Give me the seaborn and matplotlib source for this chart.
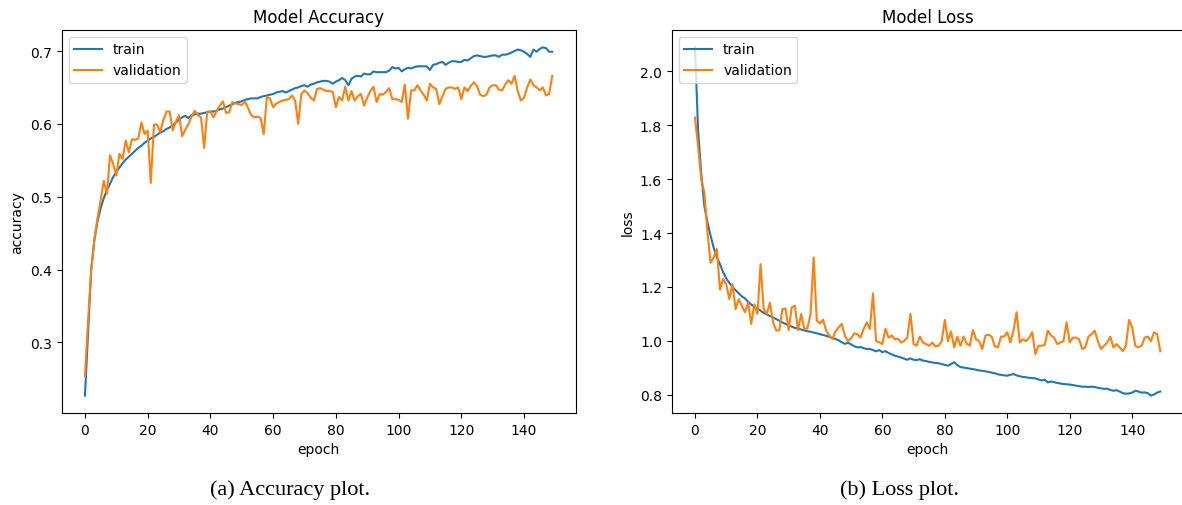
import numpy as np
import pandas as pd
import seaborn as sns
import matplotlib.pyplot as plt

epochs = np.arange(150)

train_acc = [
    0.227, 0.315, 0.400, 0.440, 0.466, 0.484, 0.498, 0.509, 0.518, 0.527,
    0.534, 0.540, 0.546, 0.551, 0.555, 0.559, 0.563, 0.567, 0.570, 0.574,
    0.577, 0.580, 0.582, 0.585, 0.588, 0.590, 0.593, 0.595, 0.598, 0.602,
    0.606, 0.609, 0.611, 0.608, 0.612, 0.613, 0.614, 0.614, 0.615, 0.616,
    0.617, 0.617, 0.618, 0.620, 0.621, 0.623, 0.625, 0.627, 0.629, 0.630,
    0.631, 0.633, 0.634, 0.635, 0.635, 0.635, 0.637, 0.638, 0.639, 0.640,
    0.641, 0.643, 0.644, 0.645, 0.643, 0.645, 0.647, 0.649, 0.650, 0.652,
    0.653, 0.651, 0.654, 0.655, 0.657, 0.658, 0.659, 0.659, 0.658, 0.655,
    0.658, 0.660, 0.663, 0.660, 0.653, 0.662, 0.665, 0.666, 0.665, 0.669,
    0.668, 0.668, 0.672, 0.671, 0.671, 0.671, 0.671, 0.673, 0.678, 0.676,
    0.677, 0.672, 0.675, 0.677, 0.676, 0.678, 0.679, 0.679, 0.679, 0.679,
    0.674, 0.681, 0.682, 0.684, 0.685, 0.681, 0.684, 0.686, 0.686, 0.685,
    0.685, 0.688, 0.687, 0.690, 0.693, 0.694, 0.693, 0.692, 0.692, 0.693,
    0.694, 0.694, 0.692, 0.695, 0.695, 0.696, 0.698, 0.700, 0.702, 0.701,
    0.699, 0.696, 0.692, 0.702, 0.699, 0.703, 0.705, 0.704, 0.699, 0.699,
]

val_acc = [
    0.254, 0.330, 0.400, 0.442, 0.470, 0.495, 0.522, 0.504, 0.557, 0.545,
    0.529, 0.559, 0.552, 0.577, 0.561, 0.579, 0.578, 0.580, 0.602, 0.586,
    0.591, 0.519, 0.599, 0.599, 0.589, 0.605, 0.617, 0.617, 0.591, 0.603,
    0.612, 0.583, 0.592, 0.600, 0.610, 0.618, 0.612, 0.609, 0.567, 0.617,
    0.617, 0.609, 0.618, 0.625, 0.631, 0.615, 0.616, 0.630, 0.628, 0.627,
    0.626, 0.631, 0.622, 0.612, 0.609, 0.610, 0.608, 0.586, 0.637, 0.635,
    0.623, 0.628, 0.630, 0.632, 0.633, 0.634, 0.639, 0.632, 0.600, 0.641,
    0.646, 0.642, 0.636, 0.632, 0.648, 0.649, 0.647, 0.645, 0.645, 0.644,
    0.623, 0.637, 0.632, 0.651, 0.632, 0.645, 0.632, 0.638, 0.641, 0.625,
    0.636, 0.645, 0.651, 0.630, 0.641, 0.640, 0.644, 0.649, 0.634, 0.634,
    0.633, 0.630, 0.654, 0.607, 0.646, 0.646, 0.653, 0.646, 0.640, 0.632,
    0.655, 0.650, 0.648, 0.627, 0.638, 0.648, 0.650, 0.650, 0.648, 0.650,
    0.634, 0.650, 0.645, 0.652, 0.657, 0.652, 0.640, 0.638, 0.640, 0.650,
    0.653, 0.653, 0.647, 0.646, 0.654, 0.660, 0.655, 0.666, 0.645, 0.632,
    0.636, 0.650, 0.661, 0.653, 0.650, 0.646, 0.650, 0.639, 0.641, 0.666,
]

train_loss = [
    2.089, 1.780, 1.620, 1.500, 1.440, 1.390, 1.345, 1.310, 1.285, 1.255,
    1.232, 1.215, 1.200, 1.188, 1.177, 1.165, 1.158, 1.145, 1.135, 1.127,
    1.120, 1.112, 1.104, 1.098, 1.092, 1.087, 1.081, 1.075, 1.068, 1.063,
    1.058, 1.053, 1.048, 1.046, 1.042, 1.039, 1.036, 1.034, 1.031, 1.028,
    1.025, 1.022, 1.019, 1.015, 1.011, 1.007, 1.002, 0.995, 0.989, 0.993,
    0.987, 0.980, 0.976, 0.977, 0.973, 0.970, 0.970, 0.966, 0.961, 0.966,
    0.958, 0.962, 0.955, 0.950, 0.945, 0.942, 0.938, 0.934, 0.930, 0.935,
    0.930, 0.929, 0.932, 0.927, 0.925, 0.922, 0.920, 0.918, 0.917, 0.914,
    0.911, 0.908, 0.914, 0.921, 0.910, 0.903, 0.901, 0.899, 0.897, 0.895,
    0.893, 0.890, 0.889, 0.887, 0.885, 0.882, 0.880, 0.876, 0.874, 0.872,
    0.871, 0.874, 0.877, 0.872, 0.869, 0.866, 0.865, 0.863, 0.862, 0.861,
    0.857, 0.853, 0.856, 0.846, 0.849, 0.847, 0.844, 0.842, 0.840, 0.839,
    0.838, 0.836, 0.834, 0.832, 0.830, 0.830, 0.829, 0.830, 0.829, 0.826,
    0.824, 0.822, 0.823, 0.818, 0.815, 0.817, 0.812, 0.806, 0.804, 0.805,
    0.808, 0.815, 0.812, 0.808, 0.809, 0.806, 0.797, 0.801, 0.808, 0.812,
]

val_loss = [
    1.829, 1.720, 1.600, 1.550, 1.400, 1.290, 1.310, 1.341, 1.190, 1.230,
    1.210, 1.155, 1.211, 1.118, 1.155, 1.130, 1.106, 1.142, 1.063, 1.136,
    1.100, 1.285, 1.118, 1.100, 1.142, 1.070, 1.038, 1.040, 1.118, 1.120,
    1.040, 1.125, 1.130, 1.040, 1.100, 1.044, 1.047, 1.100, 1.310, 1.075,
    1.065, 1.079, 1.038, 1.020, 1.007, 1.035, 1.050, 1.063, 1.019, 0.999,
    1.010, 1.028, 1.025, 1.012, 1.044, 1.069, 1.044, 1.176, 0.999, 0.995,
    0.988, 1.045, 1.012, 1.020, 1.006, 1.008, 0.994, 1.000, 1.012, 1.100,
    0.988, 0.982, 1.016, 0.994, 0.988, 0.982, 0.994, 0.980, 0.982, 0.999,
    1.078, 0.999, 1.035, 0.976, 1.016, 0.982, 1.016, 0.990, 0.982, 1.040,
    1.006, 0.999, 0.970, 1.020, 1.023, 1.016, 0.980, 0.976, 1.016, 1.016,
    1.032, 0.994, 1.038, 1.106, 0.994, 1.006, 0.999, 1.012, 1.032, 0.951,
    0.982, 0.982, 0.985, 1.038, 1.020, 1.012, 0.988, 0.994, 0.999, 1.069,
    0.994, 1.012, 1.012, 1.006, 0.970, 0.976, 1.016, 1.025, 1.038, 0.999,
    0.970, 0.982, 0.994, 1.016, 0.976, 0.988, 0.976, 0.962, 0.982, 1.078,
    1.050, 0.982, 0.976, 0.982, 1.012, 1.016, 0.999, 1.032, 1.025, 0.962,
]

series_names = ["train", "validation"]
colors = ["#1f77b4", "#ff7f0e"]


def long_frame(train, val):
    return pd.DataFrame({
        "epoch": np.concatenate([epochs, epochs]),
        "value": np.concatenate([train, val]),
        "set": [series_names[0]] * len(train) + [series_names[1]] * len(val),
    })


def draw(ax, df, title, ylabel):
    sns.lineplot(data=df, x="epoch", y="value", hue="set", palette=colors,
                 linewidth=1.5, ax=ax)
    ax.set_title(title, fontsize=12)
    ax.set_xlabel("epoch", fontsize=10)
    ax.set_ylabel(ylabel, fontsize=10)
    ax.tick_params(labelsize=10)
    sns.move_legend(ax, "upper left", title=None, fontsize=10)


def main():
    fig = plt.figure(figsize=(11.82, 5.06), dpi=100)
    ax1 = fig.add_axes([0.0521, 0.1818, 0.4349, 0.757])
    ax2 = fig.add_axes([0.5683, 0.1818, 0.4330, 0.757])

    draw(ax1, long_frame(train_acc, val_acc), "Model Accuracy", "accuracy")
    draw(ax2, long_frame(train_loss, val_loss), "Model Loss", "loss")
    ax1.set_xticks(range(0, 141, 20))
    ax2.set_xticks(range(0, 141, 20))

    # captions under each panel, like in the paper
    fig.text(0.2453, 0.032, "(a) Accuracy plot.", ha="center", va="center",
             fontsize=16, family="Liberation Serif")
    fig.text(0.7614, 0.032, "(b) Loss plot.", ha="center", va="center",
             fontsize=16, family="Liberation Serif")

    fig.savefig("out.png", dpi=100)


if __name__ == "__main__":
    main()
